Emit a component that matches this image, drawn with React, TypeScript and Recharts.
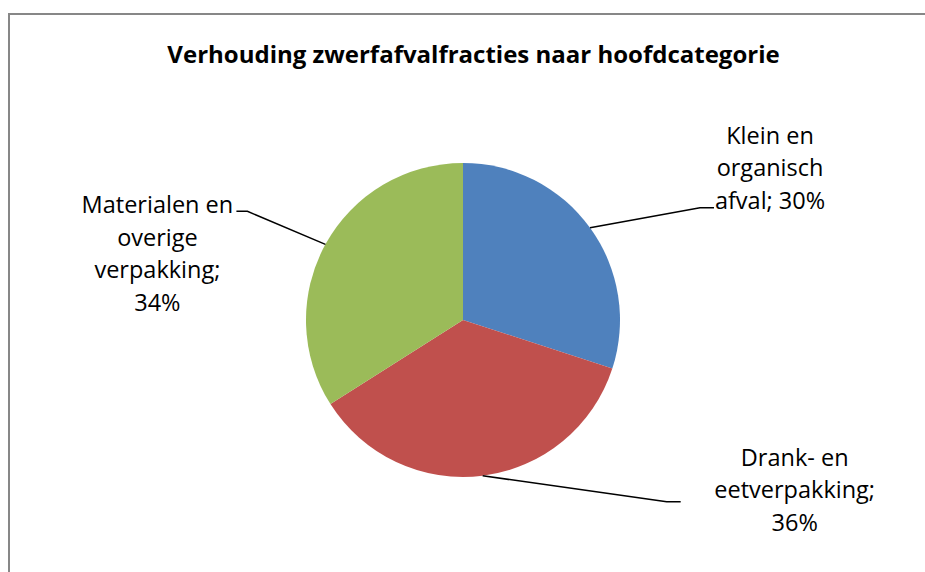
import React from "react";
import { Cell, Pie, PieChart } from "recharts";

const categories = ["Klein en organisch afval", "Drank- en eetverpakking", "Materialen en overige verpakking"];
const shares = [30, 36, 34];
const colors = ["#4F81BD", "#C0504D", "#9BBB59"];

const data = categories.map((name, i) => ({ name, value: shares[i] }));

// label placement, relative to where the leader line leaves the pie
const labelLayout = [
  { wrap: 10, elbowX: 110, elbowY: -20, tail: 14, textX: 180, textY: -93 },
  { wrap: 14, elbowX: 184, elbowY: 26, tail: 14, textX: 312, textY: -19 },
  { wrap: 13, elbowX: -78, elbowY: -33, tail: -11, textX: -168, textY: -40 },
];

const RADIAN = Math.PI / 180;
const FONT = "'Open Sans', sans-serif";
const LINE_H = 32.5;

function wrapText(text: string, max: number) {
  const lines: string[] = [];
  let cur = "";
  for (const w of text.split(" ")) {
    const next = cur ? cur + " " + w : w;
    if (next.length > max && cur) {
      lines.push(cur);
      cur = w;
    } else {
      cur = next;
    }
  }
  if (cur) lines.push(cur);
  return lines;
}

function renderLabel(props: any) {
  const { cx, cy, midAngle, outerRadius, index, name, value } = props;
  const lay = labelLayout[index];
  const sx = cx + outerRadius * Math.cos(-midAngle * RADIAN);
  const sy = cy + outerRadius * Math.sin(-midAngle * RADIAN);
  const ex = sx + lay.elbowX;
  const ey = sy + lay.elbowY;
  const lines = wrapText(`${name}; ${value}%`, lay.wrap);
  return (
    <g key={`lbl-${index}`}>
      <polyline
        points={`${sx},${sy} ${ex},${ey} ${ex + lay.tail},${ey}`}
        fill="none"
        stroke="#000"
        strokeWidth={1.5}
      />
      <text textAnchor="middle" fontFamily={FONT} fontSize={23.5} fill="#000">
        {lines.map((l, i) => (
          <tspan key={i} x={sx + lay.textX} y={sy + lay.textY + i * LINE_H} dominantBaseline="central">
            {l}
          </tspan>
        ))}
      </text>
    </g>
  );
}

export default function App() {
  return (
    <div style={{ position: "absolute", left: 0, top: 0, width: 925, height: 572, overflow: "hidden", background: "#fff" }}>
      <div
        style={{
          position: "absolute",
          left: 8,
          top: 13,
          width: 940,
          height: 600,
          borderLeft: "2px solid #878787",
          borderTop: "2px solid #878787",
        }}
      />
      <div
        style={{
          position: "absolute",
          left: 11,
          top: 36,
          width: 925,
          textAlign: "center",
          fontFamily: FONT,
          fontWeight: 700,
          fontSize: 24,
          lineHeight: "36px",
          color: "#000",
          whiteSpace: "nowrap",
        }}
      >
        Verhouding zwerfafvalfracties naar hoofdcategorie
      </div>
      <div style={{ position: "absolute", left: 0, top: 0 }}>
        <PieChart width={925} height={572} margin={{ top: 0, right: 0, bottom: 0, left: 0 }}>
          <Pie
            data={data}
            dataKey="value"
            nameKey="name"
            cx={463}
            cy={320}
            outerRadius={157}
            startAngle={90}
            endAngle={-270}
            stroke="none"
            labelLine={false}
            label={renderLabel}
            isAnimationActive={false}
          >
            {data.map((entry, i) => (
              <Cell key={entry.name} fill={colors[i]} />
            ))}
          </Pie>
        </PieChart>
      </div>
    </div>
  );
}
